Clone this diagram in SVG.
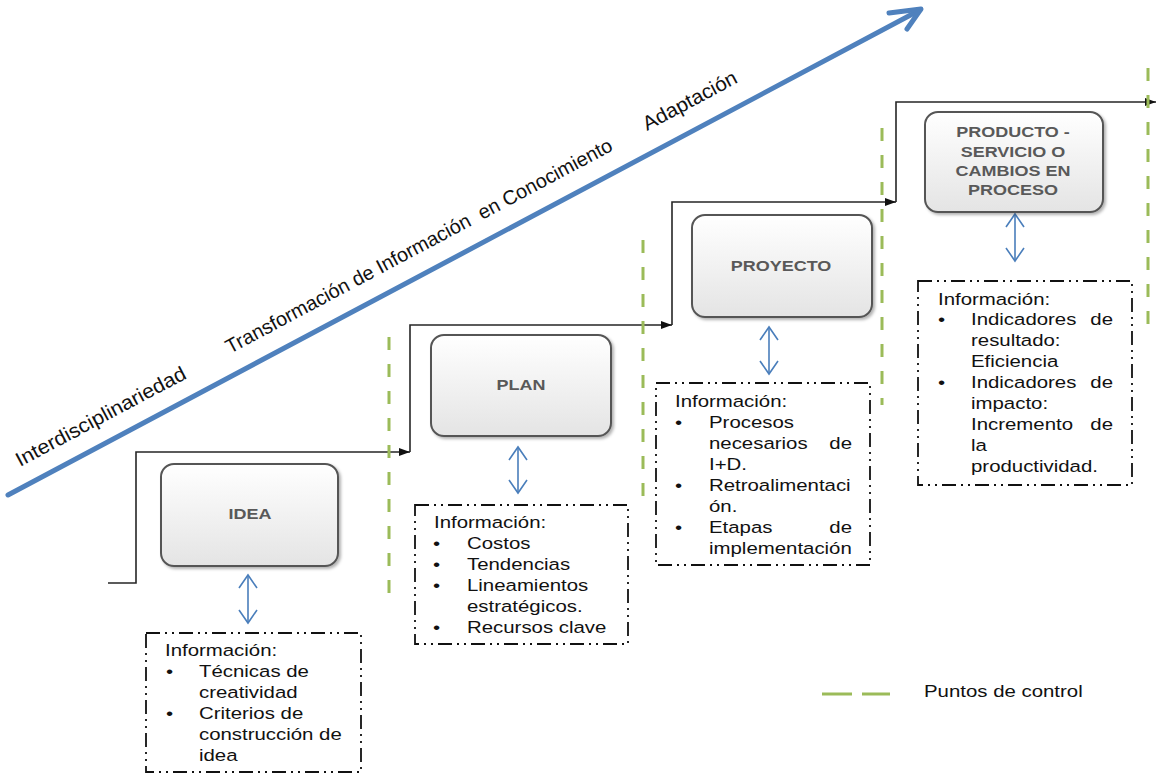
<svg xmlns="http://www.w3.org/2000/svg" width="1156" height="774" viewBox="0 0 1156 774">
<defs>
<style>
.t{font-family:"Liberation Sans",Arial,sans-serif;font-size:17px;fill:#111}
.te{font-family:"Liberation Sans",Arial,sans-serif;font-size:17px;fill:#111;text-anchor:end}
.n{font-family:"Liberation Sans",Arial,sans-serif;font-size:15px;font-weight:bold;fill:#595959;text-anchor:middle}
.d{font-family:"Liberation Sans",Arial,sans-serif;font-size:20px;fill:#111}
.node{fill:url(#g);stroke:#555;stroke-width:2;filter:url(#sh)}
.info{fill:#fff;stroke:#111;stroke-width:1.8;stroke-dasharray:14 5 2 5 2 5}
.ctl{stroke:#9BBB59;stroke-width:3;stroke-dasharray:13 14;fill:none}
.step{fill:none;stroke:#262626;stroke-width:1.6;marker-end:url(#ah)}
.bi{fill:none;stroke:#4A7EBB;stroke-width:1.6;marker-start:url(#ch);marker-end:url(#ch)}
</style>
<linearGradient id="g" x1="0" y1="0" x2="0" y2="1"><stop offset="0" stop-color="#ffffff"/><stop offset="1" stop-color="#e4e4e4"/></linearGradient>
<marker id="ah" markerUnits="userSpaceOnUse" markerWidth="12" markerHeight="10" refX="11" refY="5" orient="auto"><path d="M0,1 L11,5 L0,9 z" fill="#111"/></marker>
<marker id="ch" markerUnits="userSpaceOnUse" markerWidth="24" markerHeight="24" refX="14" refY="10" orient="auto-start-reverse"><path d="M1,1 L14,10 L1,19" fill="none" stroke="#4A7EBB" stroke-width="1.6"/></marker>
<filter id="sh" x="-10%" y="-10%" width="130%" height="130%"><feDropShadow dx="2" dy="2" stdDeviation="1.5" flood-color="#000" flood-opacity="0.3"/></filter>
</defs>
<rect width="1156" height="774" fill="#fff"/>

<g id="connectors">
<path class="step" d="M108,583 H136 V452 H410"/>
<path class="step" d="M410,452 V325 H672"/>
<path class="step" d="M672,325 V202 H896"/>
<path class="step" d="M896,202 V102 H1156"/>
<path d="M8,495 L920,10" stroke="#4F81BD" stroke-width="5" fill="none" stroke-linecap="round"/>
<path d="M889,13 L921,9 L907,29" stroke="#4F81BD" stroke-width="5" fill="none" stroke-linecap="round" stroke-linejoin="round"/>
<path class="bi" d="M248,575 V623"/>
<path class="bi" d="M518,447 V493"/>
<path class="bi" d="M769,327 V374"/>
<path class="bi" d="M1015,214 V261"/>
</g>

<g id="control-points">
<path class="ctl" d="M389,337 V607"/>
<path class="ctl" d="M643,240 V510"/>
<path class="ctl" d="M882,128 V405"/>
<path class="ctl" d="M1148,68 V325"/>
</g>

<g id="axis-labels">
<text class="d" transform="translate(20,467) rotate(-28)" textLength="190" lengthAdjust="spacingAndGlyphs">Interdisciplinariedad</text>
<text class="d" transform="translate(230,354) rotate(-28)" textLength="435" lengthAdjust="spacingAndGlyphs">Transformación de Información&#160; en Conocimiento</text>
<text class="d" transform="translate(647,131) rotate(-28)" textLength="104" lengthAdjust="spacingAndGlyphs">Adaptación</text>
</g>

<g id="node-idea">
<rect class="node" x="161" y="464" width="177" height="102" rx="13"/>
<text class="n" transform="translate(250,519) scale(1.2,1)">IDEA</text>
</g>
<g id="node-plan">
<rect class="node" x="431" y="335" width="180" height="101" rx="13"/>
<text class="n" transform="translate(521,390) scale(1.2,1)">PLAN</text>
</g>
<g id="node-proyecto">
<rect class="node" x="692" y="215" width="180" height="102" rx="13"/>
<text class="n" transform="translate(781,271) scale(1.2,1)">PROYECTO</text>
</g>
<g id="node-producto">
<rect class="node" x="925" y="112" width="178" height="100" rx="13"/>
<text class="n" transform="translate(1013,137) scale(1.2,1)">PRODUCTO -</text>
<text class="n" transform="translate(1013,157) scale(1.2,1)">SERVICIO O</text>
<text class="n" transform="translate(1013,176) scale(1.2,1)">CAMBIOS EN</text>
<text class="n" transform="translate(1013,195) scale(1.2,1)">PROCESO</text>
</g>

<g id="info-idea">
<rect class="info" x="146" y="633" width="215" height="139"/>
<text class="t" transform="translate(165,656) scale(1.2,1)">Información:</text>
<text class="t" transform="translate(166,677) scale(1.2,1)">•</text>
<text class="t" transform="translate(199,677) scale(1.2,1)">Técnicas de</text>
<text class="t" transform="translate(199,698) scale(1.2,1)">creatividad</text>
<text class="t" transform="translate(166,719) scale(1.2,1)">•</text>
<text class="t" transform="translate(199,719) scale(1.2,1)">Criterios de</text>
<text class="t" transform="translate(199,740) scale(1.2,1)">construcción de</text>
<text class="t" transform="translate(199,761) scale(1.2,1)">idea</text>
</g>

<g id="info-plan">
<rect class="info" x="415" y="505" width="213" height="139"/>
<text class="t" transform="translate(434,528) scale(1.2,1)">Información:</text>
<text class="t" transform="translate(433,549) scale(1.2,1)">•</text>
<text class="t" transform="translate(467,549) scale(1.2,1)">Costos</text>
<text class="t" transform="translate(433,570) scale(1.2,1)">•</text>
<text class="t" transform="translate(467,570) scale(1.2,1)">Tendencias</text>
<text class="t" transform="translate(433,591) scale(1.2,1)">•</text>
<text class="t" transform="translate(467,591) scale(1.2,1)">Lineamientos</text>
<text class="t" transform="translate(467,612) scale(1.2,1)">estratégicos.</text>
<text class="t" transform="translate(433,633) scale(1.2,1)">•</text>
<text class="t" transform="translate(467,633) scale(1.2,1)">Recursos clave</text>
</g>

<g id="info-proyecto">
<rect class="info" x="656" y="383" width="214" height="182"/>
<text class="t" transform="translate(675,407) scale(1.2,1)">Información:</text>
<text class="t" transform="translate(675,428) scale(1.2,1)">•</text>
<text class="t" transform="translate(709,428) scale(1.2,1)">Procesos</text>
<text class="t" transform="translate(709,449) scale(1.2,1)">necesarios</text>
<text class="te" transform="translate(852,449) scale(1.2,1)">de</text>
<text class="t" transform="translate(709,470) scale(1.2,1)">I+D.</text>
<text class="t" transform="translate(675,491) scale(1.2,1)">•</text>
<text class="t" transform="translate(709,491) scale(1.2,1)">Retroalimentaci</text>
<text class="t" transform="translate(709,512) scale(1.2,1)">ón.</text>
<text class="t" transform="translate(675,533) scale(1.2,1)">•</text>
<text class="t" transform="translate(709,533) scale(1.2,1)">Etapas</text>
<text class="te" transform="translate(852,533) scale(1.2,1)">de</text>
<text class="t" transform="translate(709,554) scale(1.2,1)">implementación</text>
</g>

<g id="info-producto">
<rect class="info" x="918" y="281" width="214" height="204"/>
<text class="t" transform="translate(938,305) scale(1.2,1)">Información:</text>
<text class="t" transform="translate(938,325) scale(1.2,1)">•</text>
<text class="t" transform="translate(971,325) scale(1.2,1)">Indicadores</text>
<text class="te" transform="translate(1113,325) scale(1.2,1)">de</text>
<text class="t" transform="translate(971,346) scale(1.2,1)">resultado:</text>
<text class="t" transform="translate(971,367) scale(1.2,1)">Eficiencia</text>
<text class="t" transform="translate(938,388) scale(1.2,1)">•</text>
<text class="t" transform="translate(971,388) scale(1.2,1)">Indicadores</text>
<text class="te" transform="translate(1113,388) scale(1.2,1)">de</text>
<text class="t" transform="translate(971,409) scale(1.2,1)">impacto:</text>
<text class="t" transform="translate(971,430) scale(1.2,1)">Incremento</text>
<text class="te" transform="translate(1113,430) scale(1.2,1)">de</text>
<text class="t" transform="translate(971,451) scale(1.2,1)">la</text>
<text class="t" transform="translate(971,472) scale(1.2,1)">productividad.</text>
</g>

<g id="legend">
<path d="M822,694 H852 M862,694 H890" stroke="#9BBB59" stroke-width="3" fill="none"/>
<text class="t" transform="translate(924,697) scale(1.2,1)">Puntos de control</text>
</g>
</svg>
